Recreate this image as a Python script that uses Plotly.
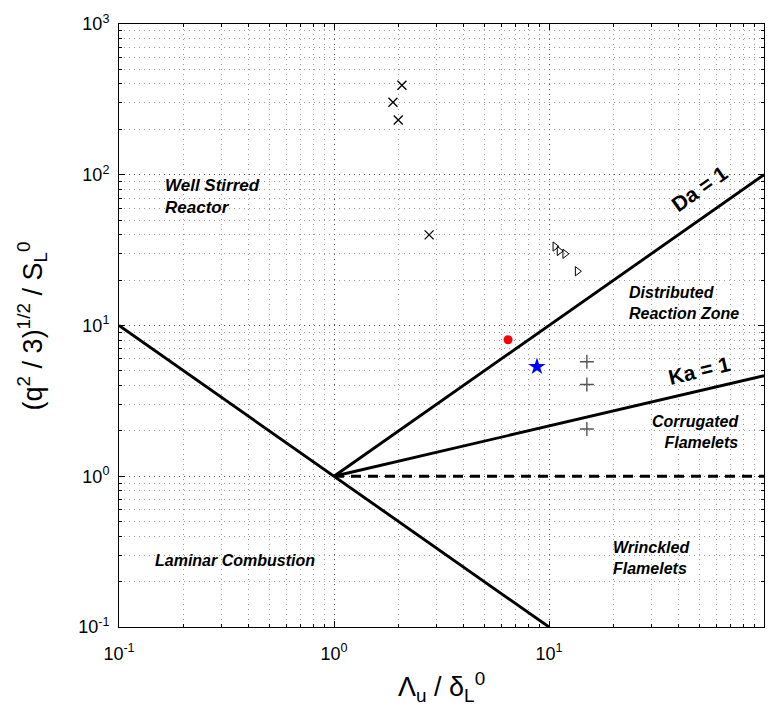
import plotly.graph_objects as go

# ---- data ----
re_x = [0.1, 10]
re_y = [10, 0.1]
da_x = [1, 100]
da_y = [1, 100]
ka_x = [1, 100]
ka_y = [1, 4.64]
dash_x = [1, 100]
dash_y = [1, 1]

cross_x = [2.07, 1.88, 1.99, 2.77]
cross_y = [392, 303, 231, 39.9]
tri_x = [10.67, 11.16, 11.86, 13.55]
tri_y = [33.4, 31.2, 29.9, 22.9]
plus_x = [15.0, 15.0, 15.0]
plus_y = [5.75, 4.06, 2.06]
dot_x = [6.45]
dot_y = [8.04]
star_x = [8.79]
star_y = [5.33]

tick_vals_x = [0.1, 1, 10, 100]
tick_text_x = ["10<sup>-1</sup>", "10<sup>0</sup>", "10<sup>1</sup>", "10<sup>2</sup>"]
tick_vals_y = [0.1, 1, 10, 100, 1000]
tick_text_y = ["10<sup>-1</sup>", "10<sup>0</sup>", "10<sup>1</sup>", "10<sup>2</sup>", "10<sup>3</sup>"]

FONT = "Liberation Sans, Arial, sans-serif"

fig = go.Figure()
line_style = dict(color="black", width=2.9)
fig.add_trace(go.Scatter(x=re_x, y=re_y, mode="lines", line=line_style))
fig.add_trace(go.Scatter(x=da_x, y=da_y, mode="lines", line=line_style))
fig.add_trace(go.Scatter(x=ka_x, y=ka_y, mode="lines", line=line_style))
fig.add_trace(go.Scatter(x=dash_x, y=dash_y, mode="lines",
                         line=dict(color="black", width=2.9, dash="10px,7px")))

fig.add_trace(go.Scatter(x=cross_x, y=cross_y, mode="markers",
                         marker=dict(symbol="x-thin", size=9, line=dict(color="black", width=1.3))))
fig.add_trace(go.Scatter(x=tri_x, y=tri_y, mode="markers",
                         marker=dict(symbol="triangle-right-open", size=8, color="black",
                                     line=dict(color="black", width=1))))
fig.add_trace(go.Scatter(x=plus_x, y=plus_y, mode="markers",
                         marker=dict(symbol="cross-thin", size=10, line=dict(color="#555555", width=1.4))))
fig.add_trace(go.Scatter(x=dot_x, y=dot_y, mode="markers",
                         marker=dict(symbol="circle", size=9, color="red")))
fig.add_trace(go.Scatter(x=star_x, y=star_y, mode="markers",
                         marker=dict(symbol="star", size=13, color="blue")))

axis_common = dict(
    type="log",
    showline=True, linecolor="black", linewidth=1, mirror="allticks",
    ticks="inside", ticklen=6, tickcolor="black",
    showgrid=True, gridcolor="#555555", griddash="1px,4px", gridwidth=1,
    zeroline=False,
    tickfont=dict(family=FONT, size=18, color="black"),
    minor=dict(dtick="D1", ticks="inside", ticklen=3, tickcolor="black",
               showgrid=True, gridcolor="#9a9a9a", griddash="1px,4px", gridwidth=1),
)

fig.update_xaxes(range=[-1, 2], tickvals=tick_vals_x, ticktext=tick_text_x,
                 ticklabelstandoff=10, **axis_common)
fig.update_yaxes(range=[-1, 3], tickvals=tick_vals_y, ticktext=tick_text_y,
                 ticklabelstandoff=5, **axis_common)

ann_font = dict(family=FONT, size=16, color="black")
big_font = dict(family=FONT, size=21, color="black")
annotations = [
    dict(x=-0.795, y=1.857, text="<b><i>Well Stirred<br>Reactor</i></b>", xanchor="left", align="left",
         font=dict(family=FONT, size=17, color="black")),
    dict(x=1.363, y=1.15, text="<b><i>Distributed<br>Reaction Zone</i></b>", xanchor="left", align="left", font=ann_font),
    dict(x=1.895, y=0.296, text="<b><i>Corrugated<br>Flamelets</i></b>", xanchor="right", align="right", font=ann_font),
    dict(x=1.29, y=-0.54, text="<b><i>Wrinckled<br>Flamelets</i></b>", xanchor="left", align="left", font=ann_font),
    dict(x=-0.46, y=-0.56, text="<b><i>Laminar Combustion</i></b>", xanchor="center", align="center", font=ann_font),
    dict(x=1.70, y=1.91, text="<b>Da = 1</b>", textangle=-35.3, font=big_font),
    dict(x=1.70, y=0.70, text="<b>Ka = 1</b>", textangle=-13.3, font=big_font),
]
for a in annotations:
    a.update(xref="x", yref="y", showarrow=False)

annotations.append(dict(xref="paper", yref="paper", x=0.5, y=-0.10, yanchor="middle",
                        text="Λ<sub>u</sub> / δ<sub>L</sub><sup>0</sup>", showarrow=False,
                        font=dict(family=FONT, size=27, color="black")))
annotations.append(dict(xref="paper", yref="paper", x=-0.135, y=0.5, xanchor="center", yanchor="middle",
                        textangle=-90,
                        text="(q<sup>2</sup> / 3)<sup>1/2</sup> / S<sub>L</sub><sup>0</sup>", showarrow=False,
                        font=dict(family=FONT, size=27, color="black")))

fig.update_layout(
    width=777, height=709,
    margin=dict(l=119, r=13, t=18, b=82),
    plot_bgcolor="white", paper_bgcolor="white",
    showlegend=False,
    annotations=annotations,
    font=dict(family=FONT),
)

fig.write_html("out.html")
